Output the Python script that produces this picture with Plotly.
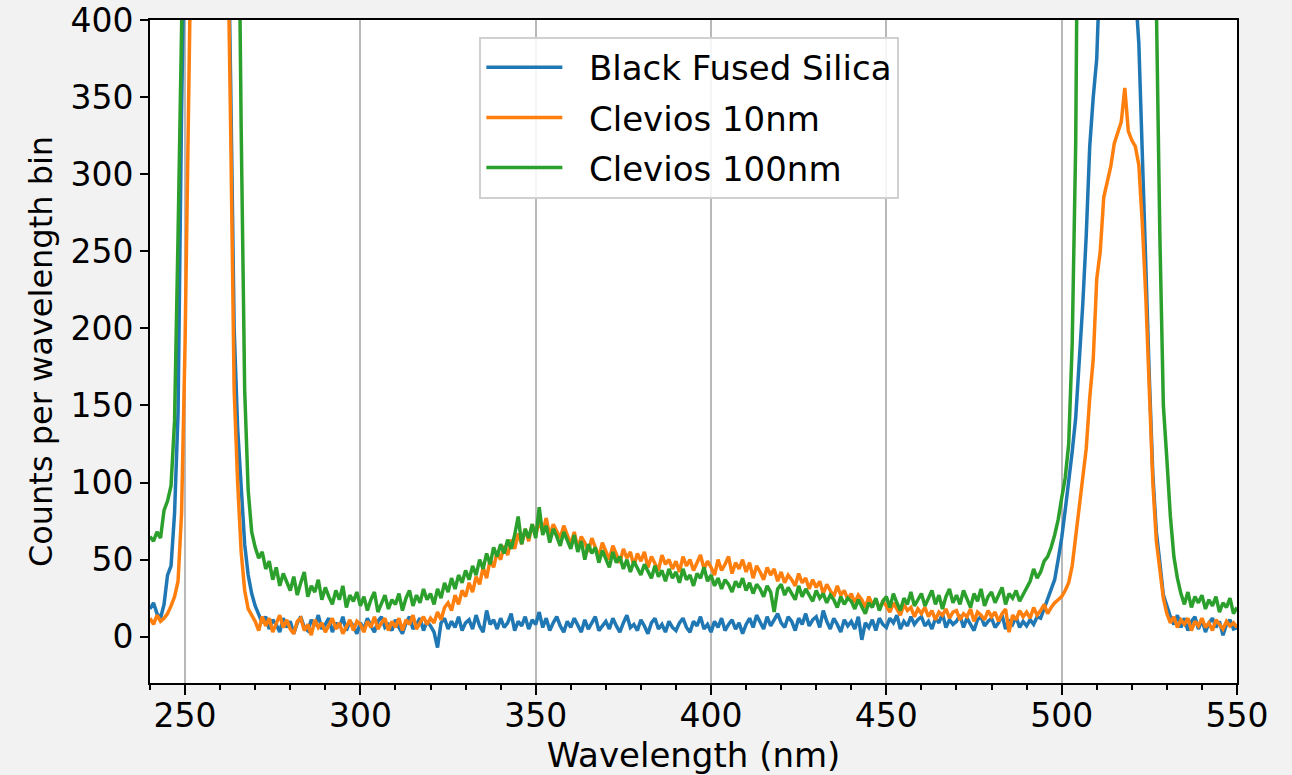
import numpy as np
import plotly.graph_objects as go

# Wavelength grid (nm), 1 nm bins from 240 to 550
wl_start = 240
wl_stop = 550

# Counts per wavelength bin (values > 400 are off-scale peaks)
black_fused_silica = [
    18, 22, 15, 12, 21, 40, 46, 80, 145, 340,
    480, 900, 1500, 2000, 2000, 2000, 2000, 2000, 1500, 1000,
    800, 650, 500, 360, 200, 135, 100, 60, 40, 28,
    20, 14, 9, 13, 5, 11, 8, 3, 12, 6,
    10, 2, 9, 13, 6, 4, 11, 7, 14, 5,
    8, 12, 3, 9, 6, 13, 4, 10, 7, 2,
    9, 5, 12, 7, 3, 10, 13, 6, 8, 4,
    11, 6, 2, 9, 13, 5, 8, 12, 4, 10,
    7, 3, -7, 9, 12, 5, 10, 6, 13, 4,
    9, 11, 5, 14, 7, 3, 17, 8, 11, 5,
    12, 6, 9, 15, 4, 10, 7, 13, 5, 11,
    8, 16, 6, 12, 4, 9, 13, 7, 3, 10,
    6, 12, 8, 3, 11, 5, 9, 13, 4, 7,
    10, 5, 12, 7, 3, 9, 14, 6, 8, 4,
    11, 7, 2, 9, 12, 5, 8, 3, 10, 6,
    4, 9, 12, 6, 3, 10, 7, 13, 5, 8,
    3, 10, 6, 12, 4, 8, 11, 5, 9, 2,
    8, 12, 6, 14, 9, 5, 13, 7, 11, 15,
    9, 6, 13, 10, 4, 12, 8, 15, 7, 11,
    13, 6, 17, 10, 5, 12, 8, 3, 11, 7,
    10, 5, 13, -2, 9, 6, 11, 4, 12, 8,
    6, 12, 9, 14, 5, 10, 7, 13, 8, 11,
    13, 7, 10, 5, 12, 9, 15, 6, 11, 8,
    10, 14, 6, 12, 8, 4, 11, 13, 7, 10,
    12, 6, 9, 14, 5, 11, 8, 13, 6, 10,
    7, 11, 8, 13, 12, 18, 24, 30, 37, 50,
    64, 82, 100, 120, 142, 175, 215, 260, 318, 350,
    375, 440, 800, 1500, 2000, 2000, 2000, 2000, 2000, 1500,
    900, 420, 385, 310, 245, 168, 105, 68, 48, 27,
    20, 13, 8, 14, 6, 12, 4, 10, 13, 5,
    11, 3, 9, 12, 6, 10, 1, 8, 11, 5,
    6,
]

clevios_10nm = [
    12, 8, 14, 10, 12, 15, 20, 26, 36, 80,
    190, 310, 500, 1000, 2000, 2000, 2000, 2000, 1500, 1000,
    800, 650, 480, 330, 160, 100, 55, 30, 18, 14,
    10, 4, 13, 7, 12, 3, 9, 14, 6, 11,
    5, 2, 10, 12, 4, 8, 1, 11, 6, 9,
    3, 8, 12, 5, 9, 2, 7, 11, 4, 10,
    8, 3, 10, 6, 13, 5, 9, 12, 4, 10,
    6, 12, 4, 11, 8, 14, 5, 9, 13, 8,
    12, 9, 16, 11, 19, 22, 17, 27, 21, 30,
    26, 35, 29, 39, 34, 45, 38, 50, 45, 55,
    50, 59, 53, 63, 57, 67, 60, 70, 62, 73,
    66, 75, 68, 77, 65, 73, 69, 64, 72, 66,
    60, 68, 57, 65, 61, 55, 64, 58, 52, 61,
    56, 50, 59, 53, 48, 57, 51, 55, 46, 54,
    49, 55, 45, 52, 48, 43, 53, 47, 50, 44,
    49, 42, 52, 46, 50, 43, 48, 53, 44, 49,
    45, 40, 50, 43, 47, 52, 41, 48, 44, 50,
    42, 48, 38, 46, 42, 37, 45, 40, 44, 36,
    42, 35, 40, 37, 33, 41, 35, 38, 31, 37,
    32, 36, 28, 34, 30, 26, 33, 27, 30, 24,
    28, 22, 27, 24, 19, 26, 21, 24, 18, 23,
    20, 16, 22, 18, 14, 21, 17, 19, 13, 18,
    15, 19, 13, 17, 11, 16, 14, 18, 12, 16,
    17, 11, 15, 13, 18, 10, 16, 14, 11, 17,
    13, 16, 10, 15, 18, 3, 14, 11, 17, 13,
    16, 12, 19, 14, 17, 21, 15, 19, 22, 24,
    26, 30, 35, 46, 65, 82, 100, 122, 155, 180,
    232, 250, 285, 296, 305, 320, 328, 334, 356, 328,
    322, 318, 306, 268, 220, 165, 100, 62, 45, 25,
    15, 9, 13, 6, 11, 8, 12, 4, 10, 7,
    12, 6, 9, 4, 11, 8, 5, 10, 7, 9,
    6,
]

clevios_100nm = [
    65, 62, 68, 64, 82, 88, 98, 140, 260, 420,
    800, 1500, 2000, 2000, 2000, 2000, 2000, 2000, 2000, 2000,
    2000, 2000, 2000, 1500, 1000, 550, 330, 160, 95, 68,
    58, 51, 55, 44, 49, 37, 45, 33, 41, 36,
    30, 39, 27, 35, 42, 26, 33, 29, 37, 24,
    32, 26, 21, 30, 24, 33, 19, 27, 23, 29,
    20, 26, 17, 24, 29, 16, 22, 27, 18, 24,
    21, 28, 17, 25, 30, 20, 27, 22, 31, 24,
    28, 21, 31, 25, 35, 29, 38, 31, 40, 35,
    43, 37, 46, 40, 50, 44, 54, 47, 58, 52,
    60, 54, 63, 57, 66, 78, 60, 70, 64, 73,
    64, 84, 66, 72, 61, 70, 65, 59, 68, 62,
    57, 66, 55, 62, 50, 60, 54, 58, 48, 56,
    51, 45, 55, 48, 52, 44, 50, 42, 49, 45,
    40, 47, 42, 38, 46, 39, 43, 36, 44, 38,
    42, 35, 44, 37, 40, 33, 41, 38, 45, 36,
    40, 33, 38, 31, 37, 34, 29, 36, 32, 38,
    30, 35, 28, 34, 31, 26, 33, 29, 16, 31,
    34, 27, 32, 28, 24, 33, 26, 31, 27, 23,
    30, 25, 28, 22, 27, 24, 19, 26, 21, 25,
    23, 18, 24, 20, 15, 22, 19, 25, 17, 23,
    26, 19, 28, 22, 17, 25, 21, 29, 20, 24,
    28, 20, 25, 30, 21, 27, 18, 26, 31, 22,
    27, 21, 30, 24, 19, 28, 23, 31, 20, 26,
    29, 22, 27, 32, 21, 28, 25, 30, 23, 27,
    32, 36, 44, 38, 42, 49, 52, 58, 66, 76,
    90, 103, 125, 190, 320, 450, 900, 2000, 2000, 2000,
    2000, 2000, 2000, 2000, 2000, 2000, 2000, 2000, 2000, 2000,
    2000, 2000, 2000, 2000, 2000, 2000, 1000, 410, 260, 150,
    115, 78, 52, 38, 28, 21, 29, 19, 26, 22,
    27, 18, 24, 20, 26, 16, 22, 19, 25, 15,
    19,
]

series_names = ["Black Fused Silica", "Clevios 10nm", "Clevios 100nm"]
series_values = [black_fused_silica, clevios_10nm, clevios_100nm]
series_colors = ["#1f77b4", "#ff7f0e", "#2ca02c"]

x_tick_values = [250, 300, 350, 400, 450, 500, 550]
y_tick_values = [0, 50, 100, 150, 200, 250, 300, 350, 400]

FONT = "DejaVu Sans"
FS = 33
NB = "\u00a0\u00a0"  # small gap between legend line sample and label

fig = go.Figure()
for name, vals, col in zip(series_names, series_values, series_colors):
    wl = wl_start + np.arange(len(vals))
    fig.add_trace(go.Scatter(
        x=wl, y=vals, mode="lines", name=NB + name, legendgroup=name,
        line=dict(color=col, width=3.5),
    ))

fig.update_layout(
    width=1292, height=775,
    paper_bgcolor="#f2f2f2",
    plot_bgcolor="white",
    margin=dict(l=150, r=55, t=20, b=92),
    font=dict(family=FONT, size=FS, color="black"),
    showlegend=True,
    legend=dict(
        x=0.303, y=0.975, xanchor="left", yanchor="top",
        bgcolor="rgba(255,255,255,0.85)",
        bordercolor="#d0d0d0", borderwidth=2,
        font=dict(family=FONT, size=34, color="black"),
        tracegroupgap=3, itemwidth=76,
    ),
)

fig.update_xaxes(
    range=[wl_start, wl_stop],
    tickvals=x_tick_values,
    ticks="outside", ticklen=10, tickwidth=2, tickcolor="black",
    ticklabelstandoff=-8,
    minor=dict(dtick=10, tick0=0, ticks="outside", ticklen=5, tickwidth=1.5, tickcolor="black", showgrid=False),
    showgrid=True, gridcolor="#b8b8b8", gridwidth=2,
    showline=True, linecolor="black", linewidth=2, mirror=True,
    zeroline=False, automargin=False,
    title=dict(text="Wavelength (nm)", font=dict(family=FONT, size=34), standoff=16),
    tickfont=dict(family=FONT, size=FS),
)
fig.update_yaxes(
    range=[-30, 400],
    tickvals=y_tick_values,
    ticks="outside", ticklen=8, tickwidth=2, tickcolor="black",
    showgrid=False,
    showline=True, linecolor="black", linewidth=2, mirror=True,
    zeroline=False, automargin=False,
    title=dict(text="Counts per wavelength bin", font=dict(family=FONT, size=32), standoff=8),
    tickfont=dict(family=FONT, size=FS),
)

fig.write_html("out.html")
